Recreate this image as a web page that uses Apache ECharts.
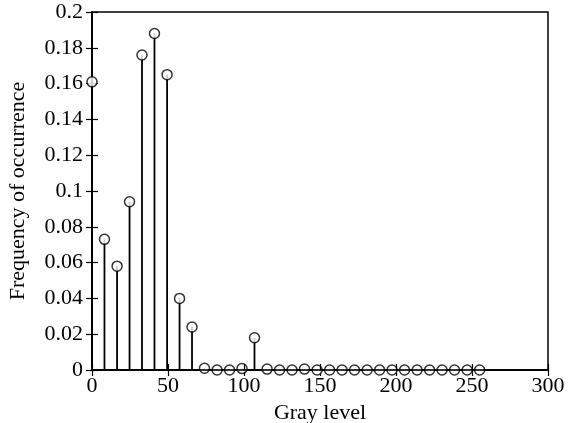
<!DOCTYPE html>
<html>
<head>
  <meta charset="utf-8">
  <script src="https://cdn.jsdelivr.net/npm/echarts@6/dist/echarts.min.js"></script>
  <style>
    html, body { margin: 0; padding: 0; background: #fff; }
  </style>
</head>
<body>
  <div id="main" style="width: 571px;height:423px;"></div>
  <script type="text/javascript">
    // 灰度级 (32 bins over 0..255)
    var grayLevels = [0, 8.2, 16.5, 24.7, 32.9, 41.1, 49.4, 57.6, 65.8, 74.0, 82.3, 90.5, 98.7, 106.9, 115.2, 123.4,
      131.6, 139.8, 148.1, 156.3, 164.5, 172.7, 181.0, 189.2, 197.4, 205.6, 213.9, 222.1, 230.3, 238.5, 246.8, 255.0];
    // 出现频率
    var frequency = [0.161, 0.073, 0.058, 0.094, 0.176, 0.188, 0.165, 0.040, 0.024, 0.001, 0, 0, 0.0008, 0.018, 0.0005, 0,
      0, 0.0005, 0, 0, 0, 0, 0, 0, 0, 0, 0, 0, 0, 0, 0, 0];

    var xTicks = [0, 50, 100, 150, 200, 250, 300];
    var yTicks = [0, 0.02, 0.04, 0.06, 0.08, 0.1, 0.12, 0.14, 0.16, 0.18, 0.2];

    var pts = grayLevels.map(function (g, i) { return [g, frequency[i]]; });
    var font = 'Liberation Serif';
    var fs = 22;

    var myChart = echarts.init(document.getElementById('main'));
    var option = {
      animation: false,
      backgroundColor: '#fff',
      grid: {
        left: 92, right: 23, top: 12, bottom: 53,
        outerBoundsMode: 'none', containLabel: false,
        show: true, borderColor: '#000', borderWidth: 1.5, backgroundColor: 'transparent'
      },
      xAxis: [{
        type: 'value', min: xTicks[0], max: xTicks[xTicks.length - 1], interval: 50,
        z: 5,
        name: 'Gray level', nameLocation: 'middle', nameGap: 28,
        nameTextStyle: { fontFamily: font, fontSize: fs, color: '#000' },
        axisLine: { show: true, onZero: false, lineStyle: { color: '#000', width: 1.5 } },
        axisTick: { show: true, inside: true, length: 6, lineStyle: { color: '#000', width: 1.2 } },
        axisLabel: { fontFamily: font, fontSize: fs, color: '#000', margin: 5 },
        splitLine: { show: false }
      }, {
        type: 'value', position: 'top', min: xTicks[0], max: xTicks[xTicks.length - 1], interval: 50,
        axisLine: { show: true, lineStyle: { color: '#000', width: 1.5 } },
        axisTick: { show: true, inside: true, length: 6, lineStyle: { color: '#000', width: 1.2 } },
        axisLabel: { show: false },
        splitLine: { show: false }
      }],
      yAxis: [{
        type: 'value', min: 0, max: 0.2, interval: 0.02,
        name: 'Frequency of occurrence', nameLocation: 'middle', nameGap: 63,
        nameTextStyle: { fontFamily: font, fontSize: fs, color: '#000' },
        axisLine: { show: true, lineStyle: { color: '#000', width: 1.5 } },
        axisTick: { show: true, inside: true, length: 6, lineStyle: { color: '#000', width: 1.2 } },
        axisLabel: {
          fontFamily: font, fontSize: fs, color: '#000', margin: 9,
          formatter: function (v) { return String(+v.toFixed(2)); }
        },
        splitLine: { show: false }
      }, {
        type: 'value', position: 'right', min: 0, max: 0.2, interval: 0.02,
        axisLine: { show: true, lineStyle: { color: '#000', width: 1.5 } },
        axisTick: { show: true, inside: true, length: 6, lineStyle: { color: '#000', width: 1.2 } },
        axisLabel: { show: false },
        splitLine: { show: false }
      }],
      series: [{
        // 茎
        type: 'bar',
        data: pts,
        barWidth: 1.8,
        itemStyle: { color: '#000' },
        silent: true
      }, {
        // 圆圈
        type: 'scatter',
        data: pts,
        symbol: 'circle',
        symbolSize: 10,
        itemStyle: { color: '#fff', borderColor: '#000', borderWidth: 1.5 },
        z: 3
      }]
    };
    myChart.setOption(option);
  </script>
</body>
</html>
